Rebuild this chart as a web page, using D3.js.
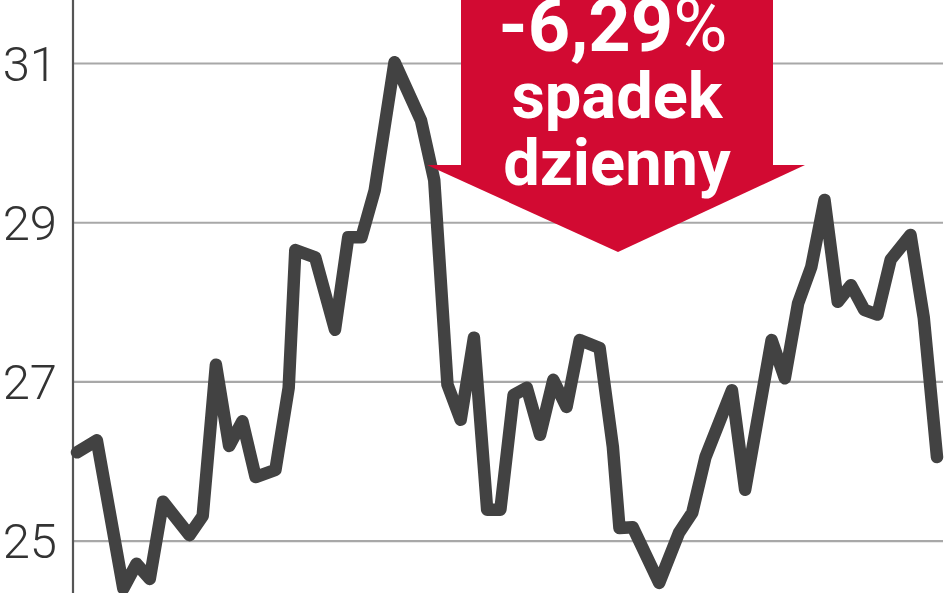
<!DOCTYPE html>
<html>
<head>
<meta charset="utf-8">
<script src="https://cdn.jsdelivr.net/npm/d3@7/dist/d3.min.js"></script>
<style>
  body { margin: 0; background: #fff; }
  svg { display: block; }
</style>
</head>
<body>
<div id="chart"></div>
<script>
// Data
// ================================
var days = [0, 3, 7, 9, 11, 13, 17, 19, 21, 23, 25, 27, 30, 32, 33, 36, 39, 41, 43, 45,
  48, 52, 54, 56, 58, 60, 62, 64, 66, 68, 70, 72, 74, 76, 79, 81, 82, 84, 88, 91,
  93, 95, 99, 101, 105, 107, 109, 111, 113, 115, 117, 119, 121, 123, 126, 128, 130];
var prices = [26.11, 26.26, 24.40, 24.71, 24.52, 25.49, 25.07, 25.31, 27.21, 26.19,
  26.50, 25.80, 25.89, 26.92, 28.65, 28.56, 27.65, 28.81, 28.81, 29.40,
  31.01, 30.28, 29.53, 26.96, 26.52, 27.55, 25.39, 25.39, 26.83, 26.92,
  26.33, 27.02, 26.68, 27.52, 27.42, 26.18, 25.16, 25.17, 24.47, 25.10,
  25.35, 26.05, 26.89, 25.64, 27.52, 27.04, 27.98, 28.44, 29.28, 28.00,
  28.21, 27.90, 27.84, 28.53, 28.84, 27.80, 26.05];

var yTicks = [25, 27, 29, 31];
var yTickLabels = ["25", "27", "29", "31"];

var dropValue = "-6,29";
var dropUnit = "%";
var dropLines = ["spadek", "dzienny"];

// Set up chart
// ================================
var svgWidth = 948;
var svgHeight = 593;

var margin = { top: 0, right: 5, bottom: 0, left: 73 };
var width = svgWidth - margin.left - margin.right;

var svg = d3.select("#chart")
  .append("svg")
  .attr("width", svgWidth)
  .attr("height", svgHeight)
  .style("background", "#fff");

var chartGroup = svg.append("g")
  .attr("transform", `translate(${margin.left}, ${margin.top})`);

var xScale = d3.scaleLinear()
  .domain([0, 130])
  .range([4, 864]);

var yScale = d3.scaleLinear()
  .domain([25, 31])
  .range([540.7, 63]);

// grid lines
var grid = chartGroup.append("g")
  .call(d3.axisLeft(yScale).tickValues(yTicks).tickSize(-width).tickFormat(""));
grid.select(".domain").remove();
grid.selectAll(".tick line")
  .attr("stroke", "#a8a8a8")
  .attr("stroke-width", 2.2);

// tick labels
chartGroup.selectAll("text.ylabel")
  .data(yTicks)
  .enter()
  .append("text")
  .classed("ylabel", true)
  .attr("x", -16)
  .attr("y", d => yScale(d))
  .attr("dy", "0.36em")
  .attr("text-anchor", "end")
  .attr("font-family", "Roboto, 'Open Sans', sans-serif")
  .attr("font-weight", 300)
  .attr("font-size", "49px")
  .attr("fill", "#333")
  .text((d, i) => yTickLabels[i]);

// vertical axis line
chartGroup.append("line")
  .attr("x1", 0).attr("x2", 0)
  .attr("y1", 0).attr("y2", svgHeight)
  .attr("stroke", "#555")
  .attr("stroke-width", 2.2);

// red arrow annotation
var red = "#d20a32";
var arrow = svg.append("g");
arrow.append("rect")
  .attr("x", 461).attr("y", -10)
  .attr("width", 312).attr("height", 176)
  .attr("fill", red);
arrow.append("polygon")
  .attr("points", "427,165 805,165 618,252")
  .attr("fill", red);

var firstLine = arrow.append("text")
  .attr("x", 613).attr("y", 51)
  .attr("text-anchor", "middle")
  .attr("font-family", "Roboto, 'Open Sans', sans-serif")
  .attr("font-size", "74px")
  .attr("fill", "#fff");
firstLine.append("tspan").attr("font-weight", 700).text(dropValue);
firstLine.append("tspan").attr("font-weight", 400).text(dropUnit);

arrow.selectAll("text.drop")
  .data(dropLines)
  .enter()
  .append("text")
  .classed("drop", true)
  .attr("x", 617)
  .attr("y", (d, i) => 118 + i * 67)
  .attr("text-anchor", "middle")
  .attr("font-family", "Roboto, 'Open Sans', sans-serif")
  .attr("font-weight", 700)
  .attr("font-size", "65px")
  .attr("fill", "#fff")
  .text(d => d);

// price line
var line = d3.line()
  .x((d, i) => xScale(days[i]))
  .y(d => yScale(d));

chartGroup.append("path")
  .datum(prices)
  .attr("d", line)
  .attr("fill", "none")
  .attr("stroke", "#424242")
  .attr("stroke-width", 12.5)
  .attr("stroke-linejoin", "round")
  .attr("stroke-linecap", "round");
</script>
</body>
</html>
